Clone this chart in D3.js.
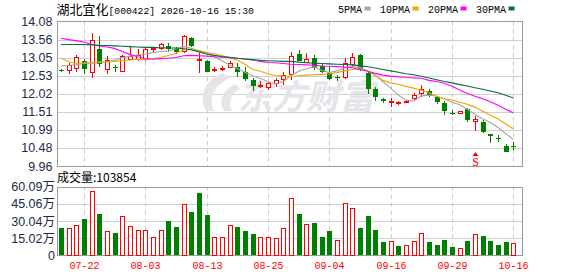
<!DOCTYPE html>
<html><head><meta charset="utf-8">
<script src="https://cdn.jsdelivr.net/npm/d3@7/dist/d3.min.js"></script>
<style>body{margin:0;background:#fff}svg{display:block}</style>
</head><body><svg id="c" width="578" height="276"></svg>
<script>
// ---------- data ----------
const dates = ["07-17","07-20","07-21","07-22","07-23","07-24","07-27","07-28","07-29","07-30",
"07-31","08-03","08-04","08-05","08-06","08-07","08-10","08-11","08-12","08-13",
"08-14","08-17","08-18","08-19","08-20","08-21","08-24","08-25","08-26","08-27",
"08-28","08-31","09-01","09-02","09-03","09-04","09-07","09-08","09-09","09-10",
"09-11","09-14","09-15","09-16","09-17","09-18","09-21","09-22","09-23","09-24",
"09-28","09-29","09-30","10-08","10-09","10-12","10-13","10-14","10-15","10-16"];
const open  = [12.70,12.68,12.75,12.96,12.61,13.30,12.72,12.79,12.65,13.00,
13.00,12.98,13.28,13.30,13.38,13.30,13.22,13.60,12.96,12.96,
12.70,12.74,12.77,12.79,12.65,12.42,12.24,12.20,12.30,12.42,
12.56,13.15,12.92,13.03,12.81,12.61,12.49,12.49,12.86,13.13,
12.61,12.16,11.87,11.78,11.76,11.78,11.88,12.04,12.11,11.92,
11.76,11.46,11.46,11.58,11.24,11.22,10.88,10.75,10.53,10.53];
const high  = [12.71,12.89,13.13,13.00,13.76,13.66,13.08,12.84,13.11,13.36,
13.30,13.33,13.34,13.46,13.46,13.36,13.69,13.64,13.17,12.97,
12.78,12.81,12.96,12.89,12.77,12.47,12.39,12.35,12.47,12.65,
13.22,13.27,13.17,13.13,12.86,12.79,12.56,13.03,13.17,13.15,
12.65,12.20,11.90,11.90,11.82,11.84,12.04,12.28,12.15,11.94,
11.82,11.57,11.54,11.61,11.38,11.26,10.88,10.86,10.60,10.66];
const low   = [12.65,12.59,12.65,12.58,12.47,12.79,12.58,12.64,12.64,12.98,
12.96,12.94,13.22,13.25,13.22,13.15,13.17,13.34,12.61,12.64,
12.64,12.68,12.75,12.51,12.39,12.11,12.18,12.13,12.20,12.26,
12.42,12.94,12.89,12.70,12.61,12.42,12.39,12.45,12.82,12.68,
12.02,11.82,11.77,11.64,11.69,11.76,11.85,11.94,11.92,11.74,
11.41,11.43,11.46,11.21,10.95,10.89,10.62,10.64,10.36,10.41];
const close = [12.66,12.82,13.06,12.72,13.52,12.87,12.96,12.75,13.08,13.08,
13.10,13.27,13.30,13.43,13.29,13.20,13.64,13.39,12.98,12.65,
12.71,12.75,12.89,12.64,12.44,12.23,12.25,12.30,12.40,12.53,
13.08,12.96,12.98,12.75,12.64,12.45,12.48,12.89,13.05,12.70,
12.16,11.94,11.80,11.81,11.77,11.79,11.97,12.15,11.96,11.79,
11.52,11.44,11.52,11.26,11.30,10.92,10.81,10.73,10.36,10.51];
const prevClose = 12.80; // close of the day before the first candle
const volume = [24.2,23.9,26.3,31.8,56.3,36.2,21.0,19.5,34.2,25.4,
21.9,21.9,16.0,21.9,30.0,24.8,44.9,37.9,54.6,35.3,
16.0,16.0,26.3,24.8,21.3,18.7,16.0,15.2,14.3,23.9,
49.9,36.2,27.2,28.3,16.0,21.3,13.4,45.5,40.6,24.2,
34.4,22.2,11.7,12.5,8.1,9.0,11.7,19.3,11.7,9.0,
13.4,7.5,6.1,12.5,17.8,16.9,12.5,9.0,11.7,10.3854]; // 万手
const ma5  = [12.81,12.83,12.84,12.88,12.89,12.90,12.93,12.97,13.04,13.09,
13.12,13.15,13.19,13.22,13.24,13.30,13.36,13.31,13.25,13.17,
13.07,12.96,12.84,12.74,12.63,12.53,12.46,12.36,12.30,12.37,
12.53,12.66,12.73,12.79,12.69,12.62,12.67,12.76,12.79,12.77,
12.67,12.55,12.36,12.18,11.98,11.84,11.81,11.96,11.98,11.95,
11.88,11.78,11.71,11.58,11.43,11.31,11.20,11.06,10.89,10.72];
const ma10 = [13.04,12.93,12.88,12.90,12.91,12.93,12.93,12.94,12.96,12.98,
13.00,12.99,13.02,13.05,13.11,13.17,13.27,13.28,13.24,13.20,
13.15,13.11,13.04,12.98,12.86,12.71,12.66,12.59,12.54,12.52,
12.51,12.53,12.55,12.56,12.57,12.58,12.62,12.67,12.71,12.73,
12.67,12.53,12.40,12.33,12.29,12.23,12.18,12.12,12.05,11.95,
11.88,11.84,11.78,11.72,11.64,11.52,11.41,11.30,11.16,11.02];
const ma20 = [13.60,13.56,13.53,13.49,13.42,13.38,13.35,13.31,13.22,13.14,
13.07,13.02,13.00,13.02,13.03,13.05,13.10,13.11,13.10,13.09,
13.07,13.06,13.05,13.03,13.01,12.98,12.94,12.91,12.90,12.88,
12.86,12.85,12.84,12.83,12.81,12.80,12.79,12.78,12.76,12.71,
12.66,12.60,12.55,12.52,12.50,12.49,12.47,12.46,12.40,12.37,
12.32,12.23,12.13,12.03,11.95,11.88,11.79,11.69,11.58,11.47];
const ma30 = [13.42,13.42,13.42,13.42,13.41,13.40,13.39,13.38,13.37,13.36,
13.35,13.34,13.34,13.33,13.32,13.32,13.30,13.27,13.21,13.15,
13.11,13.08,13.06,13.03,13.01,12.99,12.97,12.96,12.95,12.94,
12.94,12.92,12.90,12.89,12.88,12.87,12.86,12.85,12.84,12.82,
12.79,12.75,12.71,12.67,12.63,12.59,12.56,12.52,12.47,12.42,
12.37,12.33,12.28,12.24,12.19,12.15,12.10,12.05,11.98,11.90];
const priceTicks = [14.08,13.56,13.05,12.53,12.02,11.51,10.99,10.48,9.96];
const volTicks = [60.09,45.06,30.04,15.02,0];
const tickDates = ["07-22","08-03","08-13","08-25","09-04","09-16","09-29","10-16"];
const maNames = ["5PMA","10PMA","20PMA","30PMA"];
const maColors = ["#a6a6a6","#f3a200","#ff00ff","#00703c"];
const signalDates = ["10-09"];
const signalText = ["S"];
const title = "湖北宜化";
const titleRest = "[000422] 2026-10-16 15:30";
const volTitle = "成交量:103854";

// ---------- layout ----------
const svg = d3.select("#c");
const L = 57, R = 522, step = 7.67;
const pTop = 21.3, pBot = 166.2, vTop = 186.7, vBot = 255.3;
const RED = "#ff0000", GREEN = "#008000";

const x = d3.scaleBand().domain(dates).range([L, L + step*dates.length]).padding(0);
const cx = d => Math.round(x(d) + x.bandwidth()/2) + 0.5;
const y = d3.scaleLinear().domain([9.96, 14.08]).range([pBot, pTop]);
const yv = d3.scaleLinear().domain([0, 60.09]).range([vBot, vTop]);

// grid: price
const gP = svg.append("g");
gP.selectAll("line.h").data(priceTicks.slice(1, -1)).join("line")
  .attr("x1", L).attr("x2", R).attr("y1", d => Math.round(y(d))+0.5).attr("y2", d => Math.round(y(d))+0.5)
  .attr("stroke", "#d0d0d0");
gP.selectAll("line.v").data(tickDates).join("line")
  .attr("x1", cx).attr("x2", cx).attr("y1", pTop).attr("y2", pBot)
  .attr("stroke", "#c8c8c8").attr("stroke-dasharray", "4,4");
// grid: volume
const gV = svg.append("g");
gV.selectAll("line.h").data(volTicks.slice(1, -1)).join("line")
  .attr("x1", L).attr("x2", R).attr("y1", d => Math.round(yv(d))+0.5).attr("y2", d => Math.round(yv(d))+0.5)
  .attr("stroke", "#d0d0d0");
gV.selectAll("line.v").data(tickDates).join("line")
  .attr("x1", cx).attr("x2", cx).attr("y1", vTop).attr("y2", vBot)
  .attr("stroke", "#c8c8c8").attr("stroke-dasharray", "4,4");

// watermark
const wm = svg.append("g").attr("fill", "#e4e4e9");
wm.append("path").attr("d", "M222,73 C205,80 198,96 206,111 L214,111 C208,98 214,85 230,78 Z");
wm.append("path").attr("d", "M236,84 C222,90 218,101 224,111 L232,111 C228,102 231,94 240,89 Z");
wm.append("text").attr("x", 238).attr("y", 109).attr("font-size", 34).attr("font-weight", "bold")
  .attr("font-style", "italic").attr("font-family", "'Noto Sans CJK SC', sans-serif").text("东方财富");

// borders
svg.append("rect").attr("x", L+0.5).attr("y", Math.round(pTop)+0.5).attr("width", R-L).attr("height", Math.round(pBot)-Math.round(pTop))
  .attr("fill", "none").attr("stroke", "#999");
svg.append("rect").attr("x", L+0.5).attr("y", Math.round(vTop)+0.5).attr("width", R-L).attr("height", Math.round(vBot)-Math.round(vTop))
  .attr("fill", "none").attr("stroke", "#999");

// candles
const idx = d3.range(dates.length);
const up = i => close[i] > open[i];
const cg = svg.append("g").attr("shape-rendering", "crispEdges");
cg.selectAll("line").data(idx).join("line")
  .attr("x1", i => cx(dates[i])).attr("x2", i => cx(dates[i]))
  .attr("y1", i => y(high[i])).attr("y2", i => y(low[i]))
  .attr("stroke", i => up(i) ? RED : GREEN);
cg.selectAll("rect").data(idx).join("rect")
  .attr("x", i => cx(dates[i]) - (up(i) ? 2 : 2.5))
  .attr("y", i => y(Math.max(open[i], close[i])))
  .attr("width", i => up(i) ? 4 : 5)
  .attr("height", i => Math.max(1, Math.abs(y(open[i]) - y(close[i]))))
  .attr("fill", i => up(i) ? "#fff" : GREEN)
  .attr("stroke", i => up(i) ? RED : "none");

// moving averages
const mas = [ma5, ma10, ma20, ma30];
const lineGen = d3.line().x((d, i) => x(dates[i]) + x.bandwidth()/2).y(d => y(d));
svg.append("g").selectAll("path").data(mas).join("path")
  .attr("d", d => lineGen(d)).attr("fill", "none")
  .attr("stroke", (d, k) => maColors[k]).attr("stroke-width", 1.1);

// signal marker
const sg = svg.append("g").attr("fill", RED);
signalDates.forEach((d, k) => {
  const c = cx(d);
  sg.append("path").attr("d", `M${c},152 L${c+3},156 L${c-3},156 Z`);
  sg.append("text").attr("x", c).attr("y", 165.5).attr("text-anchor", "middle")
    .attr("font-size", 12).attr("font-family", "'Liberation Serif', serif").text(signalText[k]);
});

// volume bars
const vUp = i => close[i] >= (i === 0 ? prevClose : close[i-1]);
svg.append("g").attr("shape-rendering", "crispEdges").selectAll("rect").data(idx).join("rect")
  .attr("x", i => cx(dates[i]) - (vUp(i) ? 2 : 2.5))
  .attr("y", i => yv(volume[i]))
  .attr("width", i => vUp(i) ? 4 : 5)
  .attr("height", i => vBot - yv(volume[i]))
  .attr("fill", i => vUp(i) ? "#fff" : GREEN)
  .attr("stroke", i => vUp(i) ? RED : "none");

// axes
const axP = svg.append("g").attr("transform", `translate(${L},0)`)
  .call(d3.axisLeft(y).tickValues(priceTicks).tickSize(0).tickPadding(4.5).tickFormat(d3.format(".2f")));
axP.select(".domain").remove();
axP.selectAll("text").attr("font-size", 12.5).attr("font-family", "'Liberation Sans', Arial, sans-serif").attr("fill", "#1b2a4a");

const axV = svg.append("g").attr("transform", `translate(${L},0)`)
  .call(d3.axisLeft(yv).tickValues(volTicks).tickSize(0).tickPadding(2)
    .tickFormat(d => d === 0 ? "0" : d.toFixed(2) + "万"));
axV.select(".domain").remove();
axV.selectAll("text").attr("font-size", 12.5).attr("font-family", "'Liberation Sans', 'Noto Sans CJK SC', sans-serif").attr("fill", "#1b2a4a");

const axX = svg.append("g").attr("transform", `translate(0,${vBot})`)
  .call(d3.axisBottom(x).tickValues(tickDates).tickSize(0).tickPadding(7));
axX.select(".domain").remove();
axX.selectAll(".tick").attr("transform", d => `translate(${cx(d)},0)`);
axX.selectAll("text").attr("font-size", 10).attr("font-family", "'Liberation Mono', monospace").attr("fill", RED);

// title
const t = svg.append("text").attr("x", 56.5).attr("y", 13.5).attr("fill", "#000");
t.append("tspan").attr("font-size", 13).attr("font-family", "'Noto Sans CJK SC', sans-serif").text(title);
t.append("tspan").attr("font-size", 9.7).attr("font-family", "'Liberation Mono', monospace").text(titleRest);

// legend
let lx = 338;
maNames.forEach((n, k) => {
  const tx = svg.append("text").attr("x", lx).attr("y", 12.7).attr("font-size", 10)
    .attr("font-family", "'Liberation Mono', monospace").attr("fill", "#000").text(n);
  const w = tx.node().getComputedTextLength();
  svg.append("rect").attr("x", lx + w + 2.5).attr("y", 6.5).attr("width", 6).attr("height", 4).attr("fill", maColors[k]);
  lx += w + 2.5 + 6 + 9.5;
});

// volume title
svg.append("text").attr("x", 57).attr("y", 181.5).attr("fill", "#000").attr("font-size", 12)
  .attr("font-family", "'Noto Sans CJK SC', sans-serif").text(volTitle);
</script></body></html>
